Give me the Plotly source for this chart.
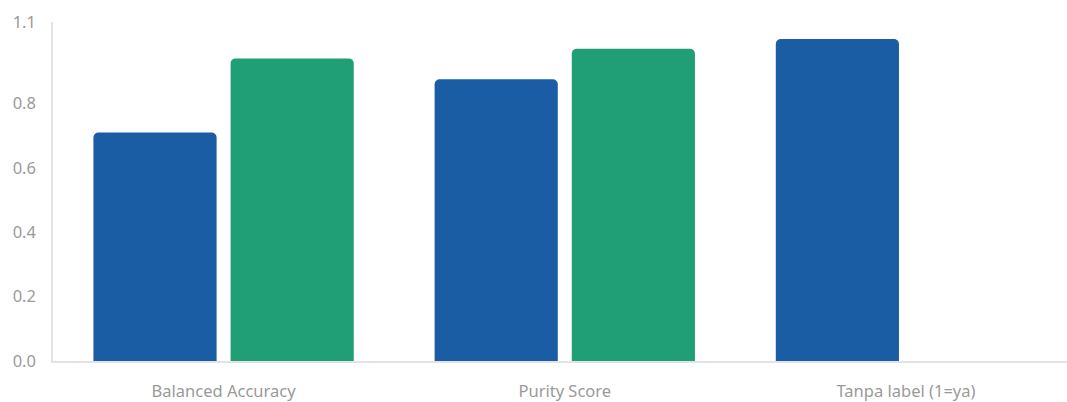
import plotly.graph_objects as go

# Metric categories and the two compared series
categories = ["Balanced Accuracy", "Purity Score", "Tanpa label (1=ya)"]
series_a = [0.71, 0.875, 1.0]
series_b = [0.94, 0.97, None]

# Y axis ticks (the top tick sits at the axis maximum)
y_max = 1.053
y_tickvals = [0, 0.2, 0.4, 0.6, 0.8, y_max]
y_ticktext = ["0.0", "0.2", "0.4", "0.6", "0.8", "1.1"]

BLUE = "#1b5da4"
GREEN = "#209e75"
AXIS_GREY = "#e3e3e3"
TEXT_GREY = "#9a9a9a"
FONT = "Noto Sans, Open Sans, sans-serif"
FONT_SIZE = 16.5

fig = go.Figure()
fig.add_trace(go.Bar(x=categories, y=series_a, name="A",
                     marker=dict(color=BLUE, cornerradius=5, line=dict(width=0))))
fig.add_trace(go.Bar(x=categories, y=series_b, name="B",
                     marker=dict(color=GREEN, cornerradius=5, line=dict(width=0))))

fig.update_layout(
    width=1067, height=402,
    margin=dict(l=53, r=0, t=22, b=37),
    paper_bgcolor="white", plot_bgcolor="white",
    barmode="group", bargap=0.196, bargroupgap=0.102,
    showlegend=False,
    font=dict(family=FONT, size=FONT_SIZE, color=TEXT_GREY),
)
fig.update_xaxes(
    type="category", range=[-0.5, 2.472],
    showgrid=False, zeroline=False,
    showline=True, linecolor=AXIS_GREY, linewidth=1.5,
    ticks="", ticklabelstandoff=14,
    tickfont=dict(family=FONT, size=FONT_SIZE, color=TEXT_GREY),
)
fig.update_yaxes(
    range=[0, y_max], tickvals=y_tickvals, ticktext=y_ticktext,
    showgrid=False, zeroline=False,
    showline=True, linecolor=AXIS_GREY, linewidth=1.5,
    ticks="", ticklabelstandoff=12,
    tickfont=dict(family=FONT, size=FONT_SIZE, color=TEXT_GREY),
)

fig.write_html("out.html")
